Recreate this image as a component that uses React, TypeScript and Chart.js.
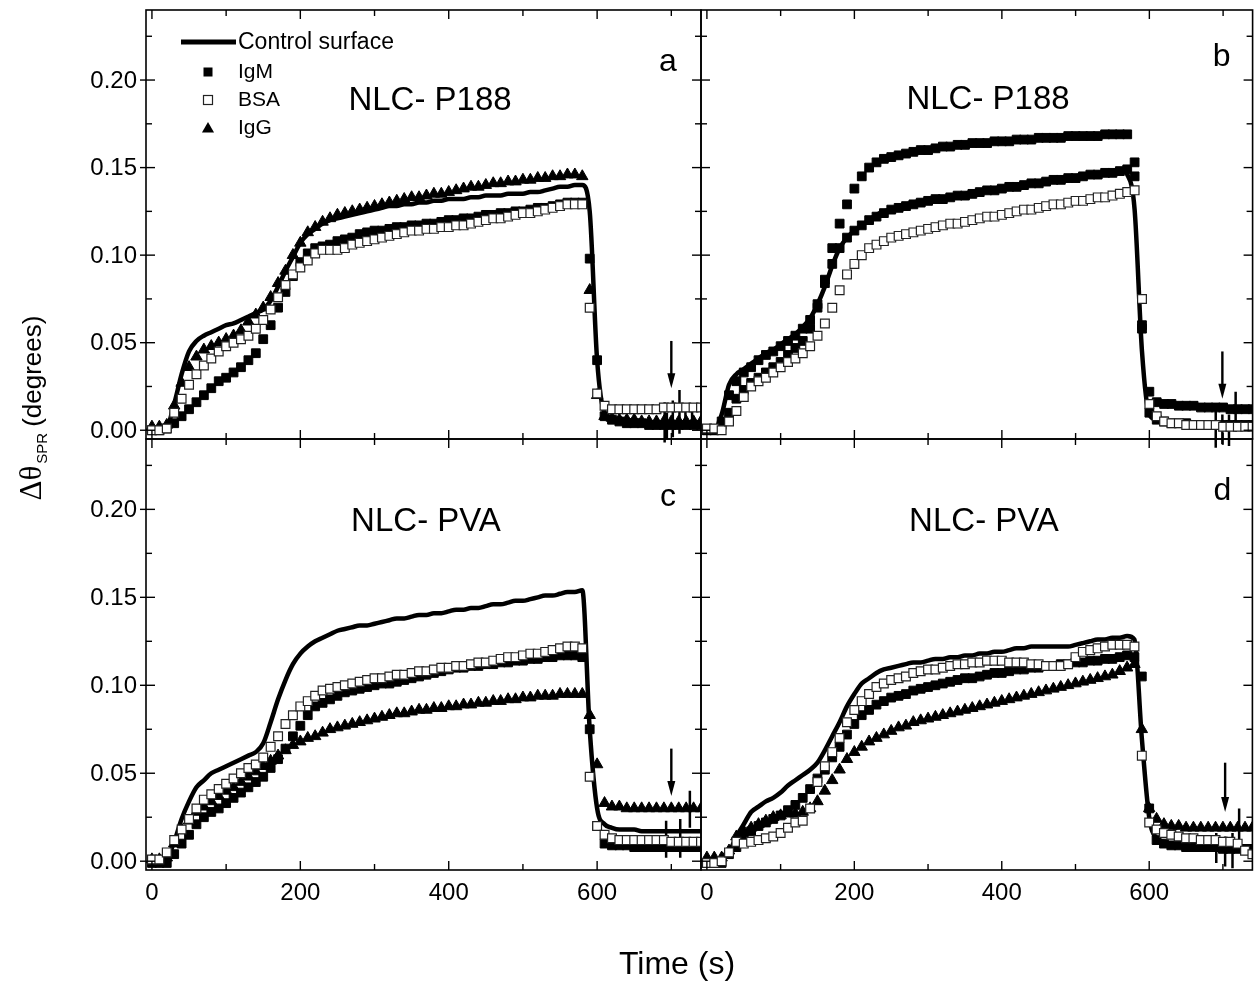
import React, { useEffect, useRef } from "react";
import { Chart, registerables } from "chart.js";

Chart.register(...registerables);

// ---------------- DATA ----------------
const TIME = [
  0, 10, 20, 30, 40, 50, 60, 70, 80, 90,
  100, 110, 120, 130, 140, 150, 160, 170, 180, 190,
  200, 210, 220, 230, 240, 250, 260, 270, 280, 290,
  300, 310, 320, 330, 340, 350, 360, 370, 380, 390,
  400, 410, 420, 430, 440, 450, 460, 470, 480, 490,
  500, 510, 520, 530, 540, 550, 560, 570, 580, 590,
  600, 610, 620, 630, 640, 650, 660, 670, 680, 690,
  700, 710, 720, 730, 740,
];

// Panel a (NLC- P188)
const A_CONTROL = [
  .001, .001, .002, .015, .032, .045, .051, .054, .056, .058,
  .060, .061, .063, .065, .067, .069, .074, .082, .091, .099,
  .107, .112, .115, .118, .120, .121, .122, .123, .124, .125,
  .126, .127, .128, .128, .129, .129, .130, .130, .131, .131,
  .132, .132, .132, .133, .133, .134, .134, .134, .135, .135,
  .135, .136, .136, .137, .138, .139, .139, .140, .140, .125,
  .040, .010, .007, .006, .006, .005, .005, .005, .004, .004,
  .004, .004, .004, .004, .004,
];
const A_IGM = [
  .000, .000, .001, .004, .008, .012, .016, .020, .024, .028,
  .030, .033, .036, .040, .044, .052, .060, .070, .079, .088,
  .096, .101, .104, .105, .106, .108, .109, .110, .112, .113,
  .114, .114, .115, .116, .116, .117, .117, .118, .118, .119,
  .120, .120, .121, .121, .122, .123, .123, .124, .124, .125,
  .125, .126, .127, .127, .128, .129, .130, .130, .130, .098,
  .040, .008, .006, .005, .004, .004, .004, .003, .003, .003,
  .003, .003, .003, .003, .003,
];
const A_BSA = [
  .000, .000, .001, .010, .018, .026, .032, .037, .041, .045,
  .048, .050, .052, .054, .058, .063, .069, .076, .083, .089,
  .093, .097, .101, .103, .103, .103, .104, .106, .107, .108,
  .109, .110, .111, .112, .113, .114, .114, .115, .115, .116,
  .116, .117, .117, .118, .119, .120, .121, .121, .122, .123,
  .124, .124, .125, .126, .127, .128, .129, .129, .129, .070,
  .021, .014, .012, .012, .012, .012, .012, .012, .012, .013,
  .013, .013, .013, .013, .013,
];
const A_IGG = [
  .002, .002, .003, .014, .027, .036, .042, .046, .048, .050,
  .052, .054, .057, .062, .066, .070, .076, .084, .091, .100,
  .107, .113, .116, .119, .121, .123, .124, .125, .126, .127,
  .128, .129, .130, .131, .132, .133, .133, .134, .135, .135,
  .136, .137, .138, .139, .139, .140, .141, .141, .142, .142,
  .143, .143, .144, .144, .145, .145, .146, .146, .145, .080,
  .020, .008, .007, .006, .006, .006, .005, .005, .005, .005,
  .005, .005, .005, .005, .005,
];

// Panel b (NLC- P188)
const B_CONTROL = [
  .000, .000, .009, .026, .032, .035, .038, .041, .044, .046,
  .049, .052, .055, .059, .064, .072, .082, .094, .104, .110,
  .114, .117, .120, .123, .125, .126, .128, .129, .130, .131,
  .131, .132, .133, .133, .134, .135, .136, .136, .137, .138,
  .139, .139, .140, .141, .141, .142, .143, .143, .144, .144,
  .145, .146, .146, .147, .147, .148, .149, .146, .126, .045,
  .009, .006, .005, .004, .004, .003, .003, .003, .003, .002,
  .002, .002, .002, .001, .001,
];
const B_IGM = [
  .000, .000, .003, .010, .018, .023, .027, .030, .033, .036,
  .039, .043, .047, .051, .058, .070, .086, .104, .118, .129,
  .138, .145, .150, .153, .155, .156, .157, .158, .159, .160,
  .160, .161, .162, .162, .163, .163, .164, .164, .164, .165,
  .165, .165, .166, .166, .166, .167, .167, .167, .167, .168,
  .168, .168, .168, .168, .169, .169, .169, .169, .145, .060,
  .022, .016, .015, .015, .014, .014, .014, .013, .013, .013,
  .013, .012, .012, .012, .012,
];
const B_BSA = [
  .001, .001, .000, .005, .011, .019, .025, .028, .030, .033,
  .036, .039, .041, .044, .048, .054, .061, .070, .080, .089,
  .095, .100, .104, .106, .108, .110, .111, .112, .113, .114,
  .115, .116, .117, .118, .118, .119, .120, .121, .122, .122,
  .123, .124, .125, .126, .126, .127, .128, .129, .129, .130,
  .131, .131, .132, .133, .133, .134, .135, .136, .137, .075,
  .015, .008, .005, .004, .004, .003, .003, .003, .003, .003,
  .002, .002, .002, .002, .002,
];
const B_IGG = [
  .000, .000, .005, .020, .028, .033, .036, .040, .043, .045,
  .048, .051, .054, .058, .063, .072, .084, .095, .104, .110,
  .114, .117, .120, .122, .124, .126, .127, .128, .129, .130,
  .131, .132, .132, .133, .134, .134, .135, .136, .137, .137,
  .138, .139, .139, .140, .141, .141, .142, .143, .143, .144,
  .144, .145, .146, .146, .147, .147, .148, .149, .153, .058,
  .010, .006, .005, .004, .004, .004, .003, .003, .003, .003,
  .003, .003, .003, .003, .003,
];

// Panel c (NLC- PVA)
const C_CONTROL = [
  .001, .001, .002, .011, .024, .034, .042, .046, .050, .052,
  .054, .056, .058, .060, .062, .067, .079, .092, .103, .112,
  .118, .122, .125, .127, .129, .131, .132, .133, .134, .134,
  .135, .136, .137, .138, .138, .139, .140, .140, .141, .141,
  .142, .143, .143, .144, .144, .145, .146, .146, .147, .148,
  .148, .149, .150, .151, .151, .152, .153, .153, .154, .075,
  .030, .021, .019, .018, .018, .018, .017, .017, .017, .017,
  .017, .017, .017, .017, .017,
];
const C_IGM = [
  -.001, -.001, -.001, .004, .010, .015, .021, .025, .028, .030,
  .033, .036, .039, .042, .045, .048, .053, .058, .064, .071,
  .077, .083, .088, .090, .092, .094, .096, .097, .098, .099,
  .100, .101, .101, .102, .103, .104, .105, .106, .107, .108,
  .109, .110, .110, .111, .111, .112, .112, .113, .113, .114,
  .114, .115, .115, .116, .116, .117, .117, .117, .116, .075,
  .020, .010, .009, .009, .009, .008, .008, .008, .008, .008,
  .008, .008, .008, .008, .008,
];
const C_BSA = [
  .001, .001, .005, .012, .018, .024, .030, .035, .038, .041,
  .044, .047, .050, .053, .055, .059, .065, .071, .078, .083,
  .088, .091, .094, .097, .098, .099, .100, .101, .102, .103,
  .104, .104, .105, .106, .106, .107, .108, .108, .109, .110,
  .110, .111, .111, .112, .113, .113, .114, .115, .116, .116,
  .117, .118, .118, .119, .120, .121, .122, .122, .121, .048,
  .020, .015, .013, .012, .012, .012, .012, .012, .012, .012,
  .011, .011, .011, .011, .011,
];
const C_IGG = [
  .001, .001, .002, .010, .018, .023, .028, .031, .034, .037,
  .040, .042, .045, .048, .051, .054, .057, .060, .063, .066,
  .068, .070, .071, .073, .075, .076, .077, .078, .079, .080,
  .081, .082, .083, .084, .084, .085, .086, .086, .087, .087,
  .088, .088, .089, .089, .090, .090, .091, .091, .092, .092,
  .093, .093, .094, .094, .094, .095, .095, .095, .095, .083,
  .055, .033, .031, .031, .030, .030, .030, .030, .030, .030,
  .030, .030, .030, .030, .030,
];

// Panel d (NLC- PVA)
const D_CONTROL = [
  .000, .000, .001, .005, .014, .021, .028, .031, .034, .036,
  .039, .043, .046, .049, .052, .056, .063, .071, .079, .088,
  .095, .101, .104, .107, .109, .110, .111, .112, .113, .113,
  .114, .115, .115, .116, .116, .117, .117, .118, .118, .119,
  .119, .120, .121, .121, .122, .122, .122, .122, .122, .122,
  .123, .124, .125, .126, .126, .127, .127, .128, .126, .070,
  .025, .013, .011, .010, .010, .009, .009, .009, .008, .008,
  .008, .007, .007, .007, .007,
];
const D_IGM = [
  -.001, -.001, -.001, .004, .008, .013, .017, .020, .022, .024,
  .026, .029, .032, .036, .041, .047, .052, .059, .065, .072,
  .078, .083, .086, .089, .091, .093, .094, .095, .097, .098,
  .099, .100, .101, .102, .103, .104, .104, .105, .106, .107,
  .107, .108, .109, .109, .110, .110, .111, .111, .112, .112,
  .113, .113, .114, .114, .115, .115, .116, .117, .116, .105,
  .030, .012, .010, .009, .009, .008, .008, .008, .008, .008,
  .007, .007, .007, .007, .007,
];
const D_BSA = [
  -.001, -.001, .000, .005, .011, .010, .011, .012, .013, .014,
  .016, .019, .022, .023, .030, .045, .054, .062, .070, .079,
  .086, .091, .095, .099, .101, .103, .104, .105, .107, .108,
  .109, .109, .110, .111, .112, .112, .113, .113, .114, .114,
  .114, .113, .113, .113, .112, .112, .111, .111, .111, .112,
  .116, .119, .120, .121, .122, .123, .123, .123, .122, .060,
  .022, .018, .016, .015, .014, .013, .013, .012, .012, .012,
  .011, .011, .010, .006, .004,
];
const D_IGG = [
  .002, .002, .002, .006, .014, .017, .019, .021, .023, .025,
  .026, .027, .027, .028, .030, .034, .040, .046, .052, .058,
  .062, .065, .068, .070, .072, .074, .076, .077, .079, .080,
  .081, .082, .083, .084, .085, .086, .087, .088, .089, .090,
  .091, .092, .093, .094, .095, .096, .097, .098, .099, .100,
  .101, .102, .103, .104, .105, .106, .108, .110, .112, .075,
  .030, .024, .021, .020, .020, .019, .019, .019, .019, .019,
  .019, .019, .019, .019, .019,
];

// vertical noise spikes at the end of each run: [time, low, high]
const A_SPIKES = [[691, -0.007, 0.016], [694, -0.005, 0.010], [702, -0.004, 0.017], [711, -0.002, 0.023], [719, 0.002, 0.015], [728, 0.003, 0.012]];
const B_SPIKES = [[690, -0.010, 0.011], [699, -0.008, 0.009], [708, -0.009, 0.009], [717, -0.001, 0.022]];
const C_SPIKES = [[693, 0.002, 0.023], [712, 0.002, 0.024], [725, 0.019, 0.040]];
const D_SPIKES = [[691, -0.001, 0.016], [703, -0.003, 0.014], [713, -0.004, 0.016], [722, 0.005, 0.030]];

// arrows: [time, top value, tip value]
const A_ARROW = [700, 0.051, 0.024];
const B_ARROW = [699, 0.045, 0.018];
const C_ARROW = [700, 0.064, 0.037];
const D_ARROW = [703, 0.056, 0.028];

const X_MAJOR = [0, 200, 400, 600];
const X_MINOR = [100, 300, 500, 700];
const X_LABELS = ["0", "200", "400", "600"];
const Y_MAJOR = [0, 0.05, 0.1, 0.15, 0.2];
const Y_MINOR = [0.025, 0.075, 0.125, 0.175, 0.225];
const Y_LABELS = ["0.00", "0.05", "0.10", "0.15", "0.20"];
const X_MIN = -8, X_MAX = 740, Y_MIN = -0.005, Y_MAX = 0.24;

const LEGEND_LABELS = ["Control surface", "IgM", "BSA", "IgG"];

// ---------------- LAYOUT ----------------
const W = 1260, H = 985;
const SANS = '"Liberation Sans", Arial, Helvetica, sans-serif';

type Spec = {
  id: string; box: number[]; title: string; titleOff: number[]; letterOff: number[];
  left: boolean; bottom: boolean; legend: boolean; igGStyle: string;
  control: number[]; igm: number[]; bsa: number[]; igg: number[];
  spikes: number[][]; arrow: number[];
};

const PANELS: Spec[] = [
  { id: "a", box: [146, 10, 701, 439], title: "NLC- P188", titleOff: [284, 91], letterOff: [33, 52], left: true, bottom: false, legend: true, igGStyle: "triangle",
    control: A_CONTROL, igm: A_IGM, bsa: A_BSA, igg: A_IGG, spikes: A_SPIKES, arrow: A_ARROW },
  { id: "b", box: [701, 10, 1257, 439], title: "NLC- P188", titleOff: [287, 90], letterOff: [31, 47], left: false, bottom: false, legend: false, igGStyle: "rect",
    control: B_CONTROL, igm: B_IGM, bsa: B_BSA, igg: B_IGG, spikes: B_SPIKES, arrow: B_ARROW },
  { id: "c", box: [146, 439, 701, 870], title: "NLC- PVA", titleOff: [280, 83], letterOff: [33, 58], left: true, bottom: true, legend: false, igGStyle: "triangle",
    control: C_CONTROL, igm: C_IGM, bsa: C_BSA, igg: C_IGG, spikes: C_SPIKES, arrow: C_ARROW },
  { id: "d", box: [701, 439, 1257, 870], title: "NLC- PVA", titleOff: [283, 83], letterOff: [30, 52], left: false, bottom: true, legend: false, igGStyle: "triangle",
    control: D_CONTROL, igm: D_IGM, bsa: D_BSA, igg: D_IGG, spikes: D_SPIKES, arrow: D_ARROW },
];

const pts = (ys: number[]) => TIME.map((t, i) => ({ x: t, y: ys[i] }));
const spikePts = (sp: number[][]) => {
  const out: any[] = [];
  sp.forEach(([t, lo, hi]) => { out.push({ x: t, y: lo }, { x: t, y: hi }, { x: t, y: null }); });
  return out;
};

function drawTriangle(ctx: CanvasRenderingContext2D, x: number, y: number, r: number) {
  ctx.beginPath();
  ctx.moveTo(x, y - r);
  ctx.lineTo(x + r * 0.866, y + r * 0.5);
  ctx.lineTo(x - r * 0.866, y + r * 0.5);
  ctx.closePath();
  ctx.fill();
}

function panelPlugin(p: Spec) {
  return {
    id: "panel_" + p.id,
    afterDatasetsDraw(chart: any) {
      const ctx: CanvasRenderingContext2D = chart.ctx;
      const { left, right, top, bottom } = chart.chartArea;
      const xs = chart.scales.x, ys = chart.scales.y;
      ctx.save();
      ctx.fillStyle = "#000";
      ctx.strokeStyle = "#000";

      // arrow
      const ax = xs.getPixelForValue(p.arrow[0]);
      const ay0 = ys.getPixelForValue(p.arrow[1]);
      const ay1 = ys.getPixelForValue(p.arrow[2]);
      ctx.lineWidth = 2.4;
      ctx.beginPath(); ctx.moveTo(ax, ay0); ctx.lineTo(ax, ay1 - 10); ctx.stroke();
      ctx.beginPath(); ctx.moveTo(ax - 4, ay1 - 15); ctx.lineTo(ax + 4, ay1 - 15); ctx.lineTo(ax, ay1); ctx.closePath(); ctx.fill();

      // frame
      ctx.lineWidth = 1.6;
      ctx.strokeRect(left, top, right - left, bottom - top);

      // ticks
      ctx.lineWidth = 1.4;
      const tick = (x1: number, y1: number, x2: number, y2: number) => { ctx.beginPath(); ctx.moveTo(x1, y1); ctx.lineTo(x2, y2); ctx.stroke(); };
      X_MAJOR.forEach((v) => { const px = xs.getPixelForValue(v); tick(px, bottom, px, bottom - 9); tick(px, top, px, top + 9); });
      X_MINOR.forEach((v) => { const px = xs.getPixelForValue(v); tick(px, bottom, px, bottom - 6); tick(px, top, px, top + 6); });
      Y_MAJOR.forEach((v) => { const py = ys.getPixelForValue(v); tick(left, py, left + 9, py); tick(right, py, right - 9, py); if (p.left) tick(left - 6, py, left, py); });
      Y_MINOR.forEach((v) => { const py = ys.getPixelForValue(v); tick(left, py, left + 6, py); tick(right, py, right - 6, py); });

      // tick labels
      ctx.font = "24px " + SANS;
      if (p.left) {
        ctx.textAlign = "right"; ctx.textBaseline = "middle";
        Y_MAJOR.forEach((v, i) => ctx.fillText(Y_LABELS[i], left - 9, ys.getPixelForValue(v) + 1));
      }
      if (p.bottom) {
        ctx.textAlign = "center"; ctx.textBaseline = "middle";
        X_MAJOR.forEach((v, i) => ctx.fillText(X_LABELS[i], xs.getPixelForValue(v), bottom + 23));
      }

      // panel title and letter
      ctx.font = "33px " + SANS;
      ctx.textAlign = "center"; ctx.textBaseline = "middle";
      ctx.fillText(p.title, left + p.titleOff[0], top + p.titleOff[1]);
      ctx.font = "32px " + SANS;
      ctx.fillText(p.id, right - p.letterOff[0], top + p.letterOff[1]);

      // legend
      if (p.legend) {
        const lx = left + 35, tx = left + 92;
        ctx.lineWidth = 5; ctx.lineCap = "butt";
        tick(lx, top + 32, lx + 55, top + 32);
        ctx.textAlign = "left"; ctx.textBaseline = "middle";
        ctx.font = "23px " + SANS;
        ctx.fillText(LEGEND_LABELS[0], tx, top + 33);
        ctx.font = "21px " + SANS;
        const mx = left + 62;
        ctx.fillRect(mx - 4.5, top + 62 - 4.5, 9, 9);
        ctx.fillText(LEGEND_LABELS[1], tx, top + 62);
        ctx.lineWidth = 1.2; ctx.strokeStyle = "#222";
        ctx.strokeRect(mx - 4.5, top + 90 - 4.5, 9, 9);
        ctx.fillText(LEGEND_LABELS[2], tx, top + 90);
        drawTriangle(ctx, mx, top + 119, 7);
        ctx.fillText(LEGEND_LABELS[3], tx, top + 118);
      }

      // global axis titles
      if (p.id === "a") {
        const f1 = '31px "Liberation Serif", "Times New Roman", serif';
        const f2 = "15px " + SANS;
        const f3 = "26px " + SANS;
        ctx.font = f1; const w1 = ctx.measureText("\u0394\u03B8").width;
        ctx.font = f2; const w2 = ctx.measureText("SPR").width;
        ctx.font = f3; const w3 = ctx.measureText("(degrees)").width;
        const total = w1 + 2 + w2 + 6 + w3;
        ctx.save();
        ctx.translate(41, 408 + total / 2);
        ctx.rotate(-Math.PI / 2);
        ctx.textAlign = "left"; ctx.textBaseline = "alphabetic";
        ctx.font = f1; ctx.fillText("\u0394\u03B8", 0, 0);
        ctx.font = f2; ctx.fillText("SPR", w1 + 2, 6);
        ctx.font = f3; ctx.fillText("(degrees)", w1 + 2 + w2 + 6, 0);
        ctx.restore();
      }
      if (p.id === "c") {
        ctx.font = "32px " + SANS;
        ctx.textAlign = "center"; ctx.textBaseline = "middle";
        ctx.fillText("Time (s)", 677, 965);
      }
      ctx.restore();
    },
  };
}

function PanelCanvas({ spec }: { spec: Spec }) {
  const ref = useRef<HTMLCanvasElement | null>(null);
  useEffect(() => {
    if (!ref.current) return;
    const b = spec.box;
    const chart = new Chart(ref.current, {
      type: "line",
      data: {
        datasets: [
          { label: "BSA", data: pts(spec.bsa), showLine: false, pointStyle: "rect", pointRadius: 6.2,
            pointBackgroundColor: "#fff", pointBorderColor: "#222", pointBorderWidth: 1.2, order: 1, clip: 0 } as any,
          { label: "IgM", data: pts(spec.igm), showLine: false, pointStyle: "rect", pointRadius: 6.2,
            pointBackgroundColor: "#000", pointBorderColor: "#000", pointBorderWidth: 1, order: 2, clip: 0 } as any,
          { label: "IgG", data: pts(spec.igg), showLine: false, pointStyle: spec.igGStyle,
            pointRadius: spec.igGStyle === "triangle" ? 6.6 : 6.2,
            pointBackgroundColor: "#000", pointBorderColor: "#000", pointBorderWidth: 1, order: 3, clip: 0 } as any,
          { label: "spikes", data: spikePts(spec.spikes), borderColor: "#000", borderWidth: 2.5, pointRadius: 0,
            spanGaps: false, order: 9, clip: 12 } as any,
          { label: "Control surface", data: pts(spec.control), borderColor: "#000", borderWidth: 4.5, pointRadius: 0,
            cubicInterpolationMode: "monotone", fill: false, order: 10, clip: 0 } as any,
        ],
      },
      options: {
        animation: false,
        responsive: false,
        devicePixelRatio: 1,
        events: [],
        layout: { padding: { left: b[0], top: b[1], right: W - b[2], bottom: H - b[3] } },
        plugins: { legend: { display: false }, tooltip: { enabled: false } },
        scales: {
          x: { type: "linear", min: X_MIN, max: X_MAX, display: false },
          y: { type: "linear", min: Y_MIN, max: Y_MAX, display: false },
        },
      },
      plugins: [panelPlugin(spec)],
    } as any);
    return () => chart.destroy();
  }, [spec]);
  return (
    <canvas ref={ref} width={W} height={H}
      style={{ position: "absolute", left: 0, top: 0, width: W, height: H }} />
  );
}

export default function App() {
  return (
    <div style={{ position: "absolute", left: 0, top: 0, width: W, height: H, background: "#fff", overflow: "hidden" }}>
      {PANELS.map((p) => <PanelCanvas key={p.id} spec={p} />)}
    </div>
  );
}
